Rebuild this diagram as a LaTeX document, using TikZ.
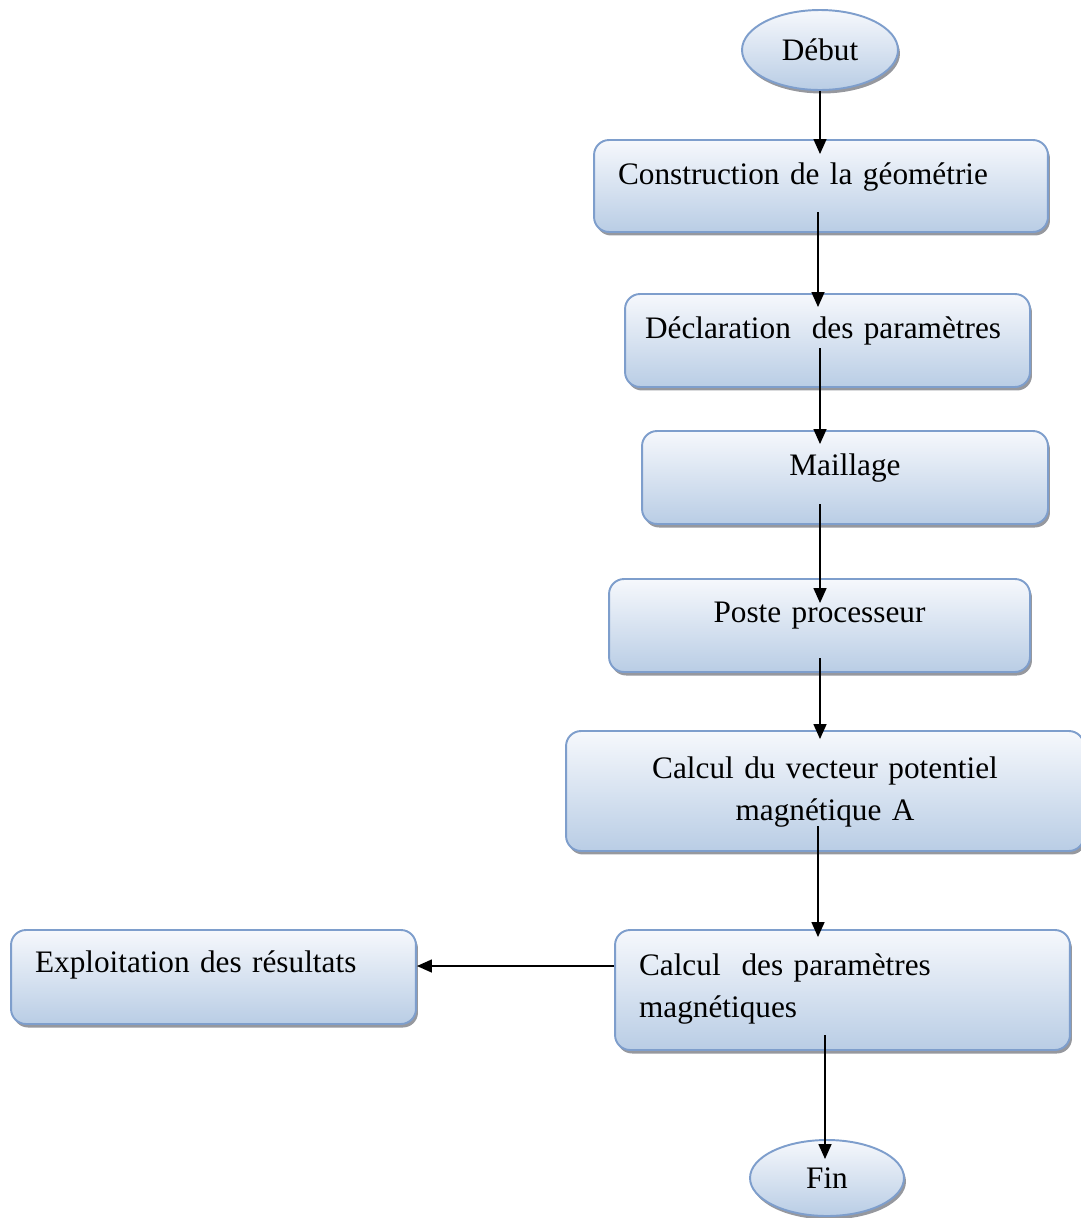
\documentclass[tikz,border=0pt]{standalone}
\usepackage{fontspec}
\setmainfont{Liberation Serif}
\usetikzlibrary{shapes.geometric,arrows.meta,calc,shadows}
\definecolor{BoxTop} {RGB}{246,248,252}
\definecolor{BoxBot} {RGB}{185,205,229}
\definecolor{BoxLine}{RGB}{126,158,204}
\definecolor{ShdCol} {RGB}{150,152,158}
\tikzset{
  nd_base/.style={draw=BoxLine,line width=1.1pt,top color=BoxTop,bottom color=BoxBot,
    drop shadow={shadow xshift=0.04cm,shadow yshift=-0.07cm,fill=ShdCol,opacity=1},
    font=\fontsize{17.8}{23.9}\selectfont,inner ysep=0pt},
  nd_term/.style={nd_base,ellipse,inner sep=0pt},
  nd_box/.style={nd_base,rectangle,rounded corners=0.3cm,inner xsep=0.48cm,align=left,text height=0.45cm},
  arr/.style={-{Triangle[length=0.3cm,width=0.26cm]},line width=0.85pt},
}

\begin{document}
\begin{tikzpicture}[x=0.02cm,y=-0.02cm]
\useasboundingbox (0,0) rectangle (1080,1218);
% terminals
\node[nd_term,minimum width=3.12cm,minimum height=1.6cm] (deb) at (820,50) {Début};
\node[nd_term,minimum width=3.08cm,minimum height=1.52cm] (fin) at (827,1178) {Fin};
% steps
\node[nd_box,minimum width=9.08cm,minimum height=1.84cm,text width=8.12cm,text depth=0.53cm] (con) at (821,186) {Construction de la géométrie};
\node[nd_box,minimum width=8.1cm,minimum height=1.86cm,inner xsep=0.4cm,text width=7.3cm,text depth=0.55cm] (dec) at (827.5,340.5) {Déclaration\ \ des paramètres};
\node[nd_box,minimum width=8.12cm,minimum height=1.86cm,text width=7.16cm,text depth=0.55cm,align=center] (mai) at (845,477.5) {Maillage};
\node[nd_box,minimum width=8.42cm,minimum height=1.86cm,text width=7.46cm,text depth=0.59cm,align=center] (pos) at (819.5,625.5) {Poste processeur};
\node[nd_box,minimum width=10.36cm,minimum height=2.4cm,text width=9.4cm,text depth=0.97cm,align=center] (cal) at (825,791) {Calcul du vecteur potentiel\\magnétique A};
\node[nd_box,minimum width=9.1cm,minimum height=2.4cm,text width=8.14cm,text depth=1.05cm] (par) at (842.5,990) {Calcul\ \ des paramètres\\magnétiques};
\node[nd_box,minimum width=8.1cm,minimum height=1.88cm,text width=7.14cm,text depth=0.65cm] (exp) at (213.5,977) {Exploitation des résultats};
% arrows
\draw[arr](deb.south)--([yshift=-0.3cm]deb.south |- con.north);
\draw[arr]([shift={(-0.06cm,-0.52cm)}]con.center) coordinate (c1)--([yshift=-0.28cm]c1 |- dec.north);
\draw[arr]([shift={(-0.15cm,-0.15cm)}]dec.center) coordinate (d1)--([yshift=-0.28cm]d1 |- mai.north);
\draw[arr]([shift={(-0.5cm,-0.53cm)}]mai.center) coordinate (m1)--([yshift=-0.5cm]m1 |- pos.north);
\draw[arr]([shift={(0.01cm,-0.65cm)}]pos.center) coordinate (p1)--([yshift=-0.18cm]p1 |- cal.north);
\draw[arr]([shift={(-0.14cm,-0.7cm)}]cal.center) coordinate (k1)--([yshift=-0.16cm]k1 |- par.north);
\draw[arr]([yshift=0.48cm]par.west) coordinate (q1)--(q1 -| exp.east);
\draw[arr]([shift={(-0.35cm,-0.9cm)}]par.center) coordinate (q2)--([yshift=-0.4cm]q2 |- fin.north);
\end{tikzpicture}
\end{document}
